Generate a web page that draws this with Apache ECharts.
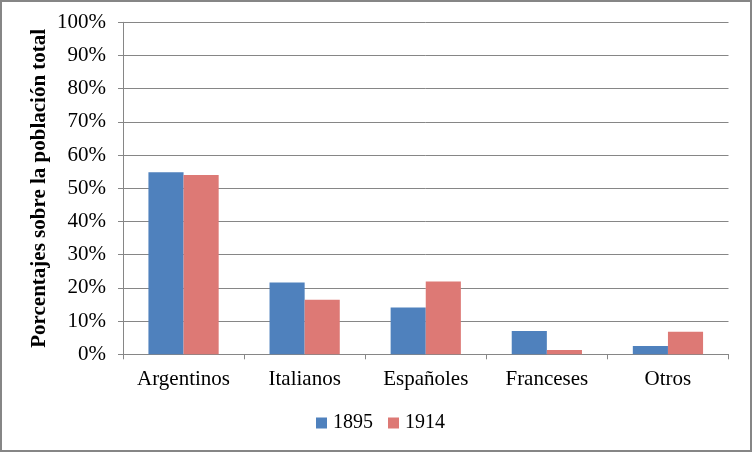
<!DOCTYPE html>
<html>
<head>
<meta charset="utf-8">
<script src="https://cdn.jsdelivr.net/npm/echarts@6/dist/echarts.min.js"></script>
<style>
html,body{margin:0;padding:0;background:#fff;}
#chart{width:752px;height:452px;}
</style>
</head>
<body>
<div id="chart"></div>
<script>
const categories = ['Argentinos', 'Italianos', 'Españoles', 'Franceses', 'Otros'];
const series1895 = [54.8, 21.6, 14.1, 7.0, 2.5];
const series1914 = [54.0, 16.4, 21.9, 1.3, 6.8];
const seriesNames = ['1895', '1914'];
const yTitle = 'Porcentajes sobre la población total';

const serif = '"Liberation Serif", "Times New Roman", serif';
const chart = echarts.init(document.getElementById('chart'), null, {renderer: 'canvas'});
chart.setOption({
  animation: false,
  backgroundColor: '#fff',
  graphic: [{
    type: 'rect',
    shape: {x: 1, y: 1, width: 750, height: 450},
    style: {fill: 'none', stroke: '#868686', lineWidth: 2},
    silent: true
  }],
  grid: {left: 123, right: 23.5, top: 22.3, bottom: 97.7, containLabel: false},
  legend: {
    data: seriesNames,
    bottom: 14,
    left: 311,
    itemWidth: 11,
    itemHeight: 11,
    itemGap: 15,
    icon: 'rect',
    textStyle: {fontFamily: serif, fontSize: 20, color: '#000', padding: [0,0,0,1]}
  },
  xAxis: {
    type: 'category',
    data: categories,
    axisLine: {lineStyle: {color: '#868686', width: 1}},
    axisTick: {show: true, length: 5, lineStyle: {color: '#868686'}},
    axisLabel: {fontFamily: serif, fontSize: 21, color: '#000', margin: 15}
  },
  yAxis: {
    type: 'value',
    min: 0, max: 100, interval: 10,
    name: yTitle,
    nameLocation: 'middle',
    nameGap: 73,
    nameMoveOverlap: false,
    nameTextStyle: {fontFamily: serif, fontSize: 21, fontWeight: 'bold', color: '#000'},
    axisLine: {show: true, lineStyle: {color: '#868686', width: 1}},
    axisTick: {show: true, length: 5, lineStyle: {color: '#868686'}},
    axisLabel: {fontFamily: serif, fontSize: 21, color: '#000', margin: 17, formatter: '{value}%'},
    splitLine: {lineStyle: {color: '#868686', width: 1}}
  },
  series: [
    {name: seriesNames[0], type: 'bar', data: series1895, barGap: '0%', barCategoryGap: '42%', itemStyle: {color: '#4F81BD'}},
    {name: seriesNames[1], type: 'bar', data: series1914, barGap: '0%', barCategoryGap: '42%', itemStyle: {color: '#DD7975'}}
  ]
});
</script>
</body>
</html>
